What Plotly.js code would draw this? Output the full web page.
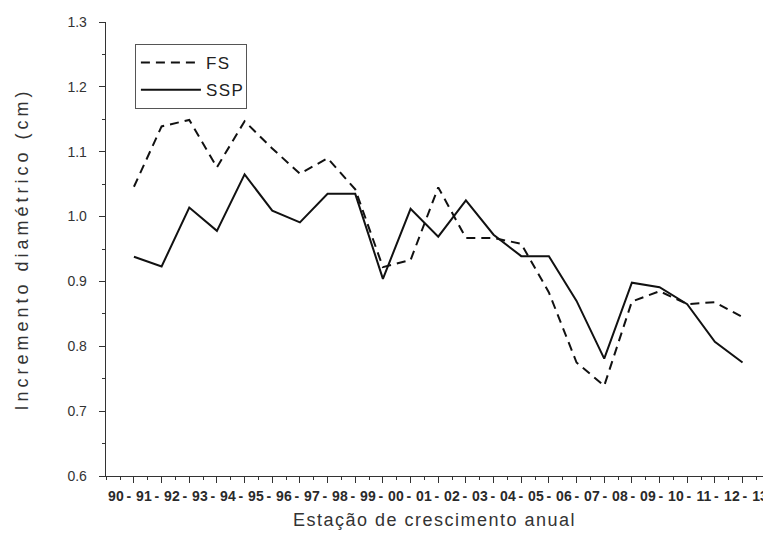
<!DOCTYPE html>
<html>
<head>
<meta charset="utf-8">
<script src="https://cdn.plot.ly/plotly-3.0.1.min.js"></script>
<style>
  html, body { margin: 0; padding: 0; background: #fff; }
  #chart { width: 763px; height: 540px; }
  /* slightly spread-out lettering for the axis titles and legend */
  #chart .g-xtitle text { letter-spacing: 1.5px; }
  #chart .g-ytitle text { letter-spacing: 4px; }
  #chart .legendtext { letter-spacing: 1.5px; }
</style>
</head>
<body>
<div id="chart"></div>
<script>
// Growth seasons (annual diameter increment)
const categories = ["90-91", "91-92", "92-93", "93-94", "94-95", "95-96", "96-97", "97-98",
  "98-99", "99-00", "00-01", "01-02", "02-03", "03-04", "04-05", "05-06", "06-07", "07-08",
  "08-09", "09-10", "10-11", "11-12", "12-13"];

const fsValues = [1.046, 1.139, 1.149, 1.076, 1.147, 1.105, 1.066, 1.090, 1.042, 0.922,
  0.933, 1.045, 0.967, 0.967, 0.958, 0.883, 0.775, 0.739, 0.869, 0.885, 0.865, 0.868, 0.845];

const sspValues = [0.938, 0.923, 1.014, 0.978, 1.065, 1.009, 0.991, 1.035, 1.035, 0.904,
  1.012, 0.969, 1.025, 0.972, 0.939, 0.939, 0.870, 0.781, 0.898, 0.891, 0.865, 0.807, 0.775];

const yTickVals = [0.6, 0.7, 0.8, 0.9, 1.0, 1.1, 1.2, 1.3];

// Year labels along the axis, chained as "90-91-92-...-13"
const yearLabels = categories.map(c => c.split("-")[0])
  .concat([categories[categories.length - 1].split("-")[1]]);

const idx = categories.map((_, i) => i);

const last = yearLabels.length - 1;
const labelVals = yearLabels.map((_, k) => (k < last ? k + 0.13 : k));
const labelText = yearLabels.map((y, k) => (k < last ? y + "\u2009-" : y));

const ink = "#111";
const axisColor = "#333";
const fontFam = "Liberation Sans, Arial, sans-serif";

const traces = [
  {
    x: idx, y: fsValues, text: categories, name: "FS", legendgroup: "fs",
    type: "scatter", mode: "lines",
    line: { color: ink, width: 2, dash: "9px,6px" },
    hovertemplate: "%{text}: %{y:.3f}<extra>FS</extra>"
  },
  {
    x: idx, y: sspValues, text: categories, name: "SSP", legendgroup: "ssp",
    type: "scatter", mode: "lines",
    line: { color: ink, width: 2 },
    hovertemplate: "%{text}: %{y:.3f}<extra>SSP</extra>"
  },
  { x: [], y: [], xaxis: "x2", yaxis: "y", showlegend: false, hoverinfo: "skip", type: "scatter" }
];

const layout = {
  width: 763, height: 540,
  margin: { l: 106, r: 0, t: 22, b: 64 },
  paper_bgcolor: "#fff", plot_bgcolor: "#fff",
  font: { family: fontFam, color: "#333" },
  showlegend: true,
  legend: {
    x: 0.044, y: 0.9515, xanchor: "left", yanchor: "top",
    bgcolor: "rgba(255,255,255,0)", bordercolor: "#555", borderwidth: 1,
    font: { size: 17, color: "#222", family: fontFam },
    traceorder: "grouped", tracegroupgap: 2, itemwidth: 60
  },
  xaxis: {
    type: "linear", range: [-1.01, 22.74],
    tickmode: "array", tickvals: idx, showticklabels: false,
    ticks: "outside", ticklen: 6, tickwidth: 1, tickcolor: axisColor,
    minor: { dtick: 0.5, tick0: 0.5, ticks: "outside", ticklen: 3, tickcolor: axisColor, showgrid: false },
    showline: true, linecolor: axisColor, linewidth: 1.3,
    showgrid: false, zeroline: false, fixedrange: true,
    title: { text: "Estação de crescimento anual", font: { size: 18, color: "#333" }, standoff: 31 }
  },
  xaxis2: {
    overlaying: "x", anchor: "y", side: "bottom",
    type: "linear", range: [-0.357, 23.107],
    tickmode: "array", tickvals: labelVals, ticktext: labelText, tickangle: 0,
    ticks: "", showline: false, showgrid: false, zeroline: false,
    tickfont: { size: 14, color: "#2a2a2a", weight: "bold" }, ticklabelstandoff: 10,
    ticklabeloverflow: "allow",
    fixedrange: true
  },
  yaxis: {
    range: [0.6, 1.3], tickmode: "array", tickvals: yTickVals, tickformat: ".1f",
    ticks: "outside", ticklen: 6, tickwidth: 1, tickcolor: axisColor,
    minor: { dtick: 0.05, tick0: 0.6, ticks: "outside", ticklen: 3, tickcolor: axisColor, showgrid: false },
    showline: true, linecolor: axisColor, linewidth: 1.3,
    showgrid: false, zeroline: false, fixedrange: true,
    tickfont: { size: 14, color: "#333" }, ticklabelstandoff: 9,
    title: { text: "Incremento diamétrico (cm)", font: { size: 18, color: "#333" }, standoff: 34 }
  }
};

Plotly.newPlot("chart", traces, layout, { displayModeBar: false, staticPlot: true });
</script>
</body>
</html>
